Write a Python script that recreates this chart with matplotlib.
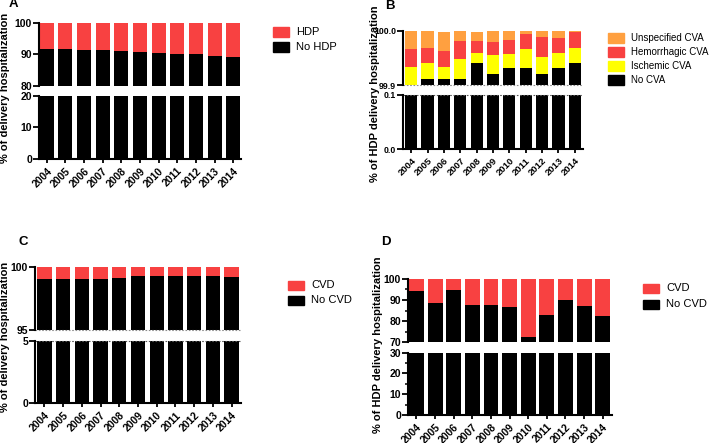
import numpy as np
import matplotlib.pyplot as plt
from matplotlib.patches import Rectangle
from matplotlib.ticker import FormatStrFormatter

plt.rcParams['font.family'] = ['Liberation Sans', 'DejaVu Sans']

years = [str(y) for y in range(2004, 2015)]

# A: % of delivery hospitalizations with / without HDP
no_hdp = [91.8, 91.7, 91.5, 91.5, 91.1, 90.8, 90.3, 90.1, 90.0, 89.6, 89.3]
hdp = [100 - v for v in no_hdp]

# B: % of HDP delivery hospitalizations by CVA type
no_cva = [99.901, 99.911, 99.911, 99.911, 99.9415, 99.921, 99.931, 99.931, 99.921, 99.931, 99.9415]
ischemic = [0.0325, 0.0290, 0.0225, 0.0380, 0.0185, 0.0345, 0.0257, 0.0349, 0.0314, 0.0275, 0.0274]
hemorrhagic = [0.0324, 0.0277, 0.0287, 0.0321, 0.0211, 0.0232, 0.0262, 0.0280, 0.0366, 0.0287, 0.0281]
unspecified = [0.0341, 0.0311, 0.0354, 0.0189, 0.0159, 0.0213, 0.0171, 0.0061, 0.0110, 0.0128, 0.0030]

# C: % of delivery hospitalizations with / without CVD
no_cvd_all = [99.04, 99.04, 99.10, 99.10, 99.18, 99.28, 99.28, 99.28, 99.33, 99.28, 99.26]
cvd_all = [100 - v for v in no_cvd_all]

# D: % of HDP delivery hospitalizations with / without CVD
no_cvd_hdp = [94.3, 88.4, 94.9, 87.6, 87.6, 86.7, 72.4, 83.0, 89.8, 87.0, 82.4]
cvd_hdp = [100 - v for v in no_cvd_hdp]

RED = '#F84141'
ORANGE = '#FFA040'
YELLOW = '#FFFF00'
BLACK = '#000000'

W, H = 709, 443
fig = plt.figure(figsize=(W / 100, H / 100), dpi=100)


def px_axes(x0, x1, y0, y1):
    return fig.add_axes([x0 / W, 1 - y1 / H, (x1 - x0) / W, (y1 - y0) / H])


def broken_panel(x0, x1, top_px, bot_px, top_lim, bot_lim, top_ticks, bot_ticks,
                 series, colors, xlim, width, fmt='%d', minor=None, dotted=False,
                 ysize=7.5, xsize=7.5):
    ax_t = px_axes(x0, x1, *top_px)
    ax_b = px_axes(x0, x1, *bot_px)
    x = np.arange(len(years))
    for ax in (ax_t, ax_b):
        bottom = np.zeros(len(years))
        for vals, c in zip(series, colors):
            ax.bar(x, vals, width, bottom=bottom, color=c, edgecolor='none')
            bottom = bottom + np.array(vals)
        ax.set_xlim(*xlim)
        ax.spines['top'].set_visible(False)
        ax.spines['right'].set_visible(False)
        ax.spines['left'].set_linewidth(1.5)
        ax.spines['bottom'].set_linewidth(1.5)
        ax.tick_params(axis='y', direction='out', length=4, width=1.3, pad=1,
                       labelsize=ysize)
        ax.yaxis.set_major_formatter(FormatStrFormatter(fmt))
    ax_t.set_ylim(*top_lim)
    ax_t.set_yticks(top_ticks)
    ax_b.set_ylim(*bot_lim)
    ax_b.set_yticks(bot_ticks)
    if minor is not None:
        ax_t.set_yticks(minor[0], minor=True)
        ax_b.set_yticks(minor[1], minor=True)
        for ax in (ax_t, ax_b):
            ax.tick_params(axis='y', which='minor', length=2.5, width=1.1)
    for ax in (ax_t, ax_b):
        for lab in ax.get_yticklabels():
            lab.set_fontweight('bold')
    ax_t.spines['bottom'].set_visible(False)
    ax_t.set_xticks([])
    ax_b.set_xticks(x)
    ax_b.set_xticklabels(years, rotation=45, ha='right', rotation_mode='anchor',
                         fontsize=xsize, fontweight='bold')
    ax_b.tick_params(axis='x', direction='out', length=3, width=1.3, pad=2)
    if dotted:
        ax_t.axhline(top_lim[0], color='0.55', lw=0.8, ls=(0, (1.5, 1.5)), clip_on=False)
        ax_b.axhline(bot_lim[1], color='0.35', lw=0.8, ls=(0, (1.5, 1.5)), clip_on=False)
    return ax_t, ax_b


def legend(xp, y0, step, labels, colors, size):
    for i, (lab, c) in enumerate(zip(labels, colors)):
        yc = y0 + i * step
        fig.add_artist(Rectangle((xp / W, 1 - (yc + 4.5) / H), 16 / W, 9 / H,
                                 color=c, transform=fig.transFigure))
        fig.text((xp + 23) / W, 1 - yc / H, lab, fontsize=size, va='center', ha='left')


# Panel A
broken_panel(39, 241, (22.7, 86), (96, 158.7), (80, 100), (0, 20), [80, 90, 100], [0, 10, 20],
             [no_hdp, hdp], [BLACK, RED], (-0.42, 10.42), 0.75)
legend(273, 32, 15, ['HDP', 'No HDP'], [RED, BLACK], 8)
fig.text(13 / W, 1 - 4 / H, 'A', fontsize=9.5, fontweight='bold', ha='center', va='center')
fig.text(5 / W, 1 - 88 / H, '% of delivery hospitalization', rotation=90, fontsize=8,
         fontweight='bold', ha='center', va='center')

# Panel B
broken_panel(403, 583, (30.7, 85.3), (94.7, 149.3), (99.9, 100.0), (0.0, 0.1),
             [99.9, 100.0], [0.0, 0.1],
             [no_cva, ischemic, hemorrhagic, unspecified], [BLACK, YELLOW, RED, ORANGE],
             (-0.5, 10.5), 0.74, fmt='%.1f', dotted=True, ysize=6.3, xsize=6.8)
legend(608, 38, 14, ['Unspecified CVA', 'Hemorrhagic CVA', 'Ischemic CVA', 'No CVA'],
       [ORANGE, RED, YELLOW, BLACK], 7)
fig.text(390 / W, 1 - 6 / H, 'B', fontsize=9.5, fontweight='bold', ha='center', va='center')
fig.text(375 / W, 1 - 94 / H, '% of HDP delivery hospitalization', rotation=90, fontsize=8,
         fontweight='bold', ha='center', va='center')

# Panel C
broken_panel(35, 241, (267.3, 330), (340.7, 403.3), (95, 100), (0, 5), [95, 100], [0, 5],
             [no_cvd_all, cvd_all], [BLACK, RED], (-0.5, 10.5), 0.77, dotted=True)
legend(288, 285, 15, ['CVD', 'No CVD'], [RED, BLACK], 8)
fig.text(23 / W, 1 - 242 / H, 'C', fontsize=9.5, fontweight='bold', ha='center', va='center')
fig.text(5 / W, 1 - 337 / H, '% of delivery hospitalization', rotation=90, fontsize=8,
         fontweight='bold', ha='center', va='center')

# Panel D
broken_panel(408, 612, (278.7, 342.3), (352.7, 415), (70, 100), (0, 30), [70, 80, 90, 100],
             [0, 10, 20, 30], [no_cvd_hdp, cvd_hdp], [BLACK, RED], (-0.455, 10.5), 0.8,
             minor=([75, 85, 95], [5, 15, 25]))
legend(643, 288, 16, ['CVD', 'No CVD'], [RED, BLACK], 8)
fig.text(386 / W, 1 - 242 / H, 'D', fontsize=9.5, fontweight='bold', ha='center', va='center')
fig.text(378 / W, 1 - 345 / H, '% of HDP delivery hospitalization', rotation=90, fontsize=8,
         fontweight='bold', ha='center', va='center')

fig.savefig('out.png', dpi=100)
